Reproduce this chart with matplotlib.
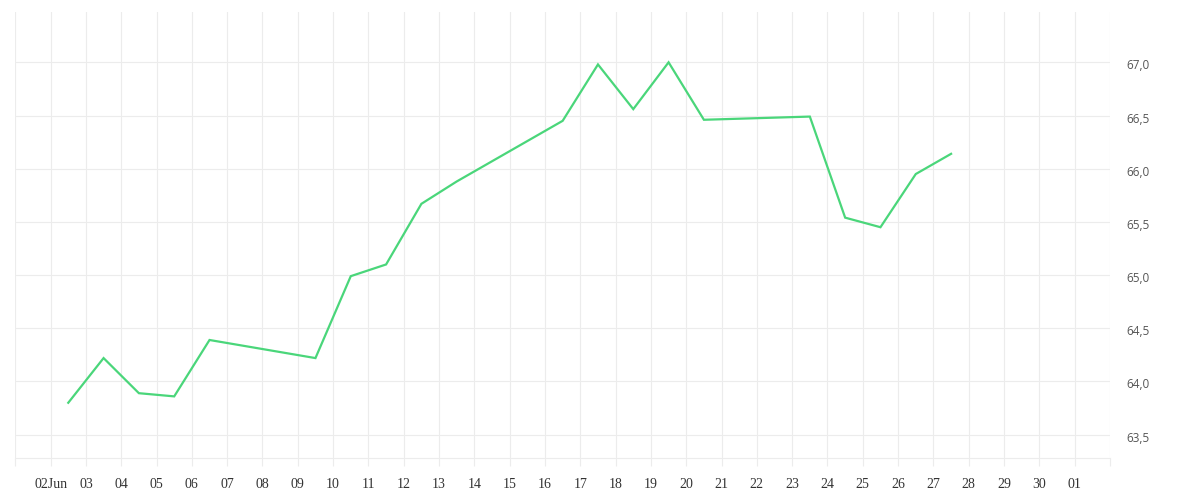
import pandas as pd
import matplotlib.pyplot as plt
import matplotlib.transforms as mtransforms

# daily values (trading days only, plotted at midday)
dates = ['2025-06-02', '2025-06-03', '2025-06-04', '2025-06-05', '2025-06-06',
         '2025-06-09', '2025-06-10', '2025-06-11', '2025-06-12', '2025-06-13',
         '2025-06-16', '2025-06-17', '2025-06-18', '2025-06-19', '2025-06-20',
         '2025-06-23', '2025-06-24', '2025-06-25', '2025-06-26', '2025-06-27']
values = [63.80, 64.22, 63.89, 63.86, 64.39,
          64.22, 64.99, 65.10, 65.67, 65.88,
          66.45, 66.98, 66.56, 67.00, 66.46,
          66.49, 65.54, 65.45, 65.95, 66.14]

tick_days = pd.date_range('2025-06-01', '2025-07-02', freq='D')
tick_labels = ['', '02Jun'] + [d.strftime('%d') for d in tick_days[2:-1]] + ['']
y_ticks = [63.5, 64.0, 64.5, 65.0, 65.5, 66.0, 66.5, 67.0]
y_labels = ['63,5', '64,0', '64,5', '65,0', '65,5', '66,0', '66,5', '67,0']

grid_col = '#ececec'

x = pd.to_datetime(dates) + pd.Timedelta(hours=12)

fig = plt.figure(figsize=(12, 5), dpi=100)
ax = fig.add_axes([15.3 / 1200, 41.7 / 500, (1110 - 15.3) / 1200, (458.3 - 12) / 500])

ax.plot(x, values, color='#4ad67a', linewidth=1.6, solid_joinstyle='miter')

ax.set_xlim(tick_days[0], tick_days[-1])
ax.set_ylim(63.278, 67.473)

ax.set_xticks(tick_days)
ax.set_xticklabels(tick_labels, family='Liberation Serif', fontsize=10, color='#333333')
ax.set_yticks(y_ticks)
ax.set_yticklabels(y_labels, family='Open Sans', fontsize=8.5, color='#555555')

ax.yaxis.tick_right()
ax.tick_params(axis='y', length=0, pad=12)
ax.tick_params(axis='x', length=6, width=0.8, color=grid_col, pad=8)

# nudge the value labels a touch below their gridlines
shift = mtransforms.ScaledTranslation(0, -2 / 100, fig.dpi_scale_trans)
for lbl in ax.get_yticklabels():
    lbl.set_transform(lbl.get_transform() + shift)

ax.grid(True, color=grid_col, linewidth=0.8)
ax.set_axisbelow(True)

for side in ['top', 'left', 'right']:
    ax.spines[side].set_visible(False)
ax.spines['bottom'].set_color(grid_col)
ax.spines['bottom'].set_linewidth(0.8)

fig.savefig('out.png', dpi=100)
